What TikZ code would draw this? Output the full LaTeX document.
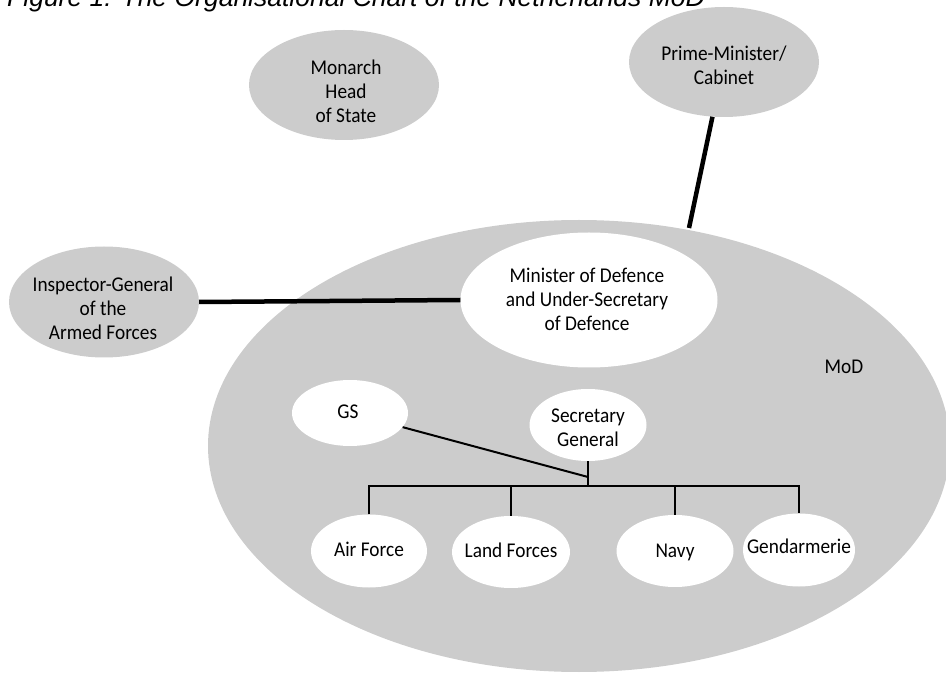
\documentclass[tikz,border=0pt]{standalone}
\usepackage{fontspec}
\setmainfont{Carlito}[FakeStretch=0.92]
\newfontfamily\titlefont{Liberation Sans}
\usetikzlibrary{shapes.geometric}
\definecolor{unitgray}{RGB}{204,204,204}

\begin{document}
\begin{tikzpicture}[x=1pt,y=-1pt,
  unit/.style={ellipse, inner sep=0pt, draw=none},
  grayunit/.style={unit, fill=unitgray},
  whiteunit/.style={unit, fill=white},
  txt/.style={inner sep=0pt, align=center, font=\fontsize{21}{24}\selectfont},
  heavy/.style={line width=4.5pt},
  light/.style={line width=2pt},
]
\useasboundingbox (0,0) rectangle (946,676);

% heading, cut by the top edge of the page
\node[anchor=base west, inner sep=0pt,
      font=\titlefont\itshape\fontsize{26.5}{30}\selectfont] (title) at (7,7)
  {Figure 1: The Organisational Chart of the Netherlands MoD};

% the ministry as a whole
\node[grayunit, minimum width=742pt, minimum height=452pt] (mod) at (579,446) {};
\node[txt, anchor=base] (modlabel) at (844,374) {MoD};

% bodies outside the ministry
\node[grayunit, minimum width=190pt, minimum height=110pt] (monarch) at (344,85) {};
\node[txt] (monarchlabel) at (346,91) {Monarch\\Head\\of State};

\node[grayunit, minimum width=190pt, minimum height=110pt] (pm) at (724,62) {};
\node[txt] (pmlabel) at (724,65) {Prime-Minister/\\Cabinet};

\node[grayunit, minimum width=190pt, minimum height=111pt] (insp) at (104,302) {};
\node[txt] (insplabel) at (103,308) {Inspector-General\\of the\\Armed Forces};

% minister and top staff
\node[whiteunit, minimum width=257pt, minimum height=135pt] (minister) at (589,300) {};
\node[txt] (ministerlabel) at (587,299) {Minister of Defence\\and Under-Secretary\\of Defence};

\node[whiteunit, minimum width=116pt, minimum height=66pt] (gs) at (350,413) {};
\node[txt, anchor=base] (gslabel) at (348,419) {GS};

\node[whiteunit, minimum width=117pt, minimum height=72pt] (sg) at (588,425) {};
\node[txt] (sglabel) at (588,428) {Secretary\\General};

% services
\node[whiteunit, minimum width=116pt, minimum height=73pt] (air) at (369,551) {};
\node[txt, anchor=base] (airlabel) at (369,556) {Air Force};

\node[whiteunit, minimum width=118pt, minimum height=72pt] (land) at (511,552) {};
\node[txt, anchor=base] (landlabel) at (511,557) {Land Forces};

\node[whiteunit, minimum width=117pt, minimum height=72pt] (navy) at (675,551) {};
\node[txt, anchor=base] (navylabel) at (675,557) {Navy};

\node[whiteunit, minimum width=112pt, minimum height=73pt] (gend) at (799,550) {};
\node[txt, anchor=base] (gendlabel) at (799,553) {Gendarmerie};

% connector end points
\coordinate (pmfoot) at (689,228);
\coordinate (busmid) at (588,486);
\coordinate (gsjoin) at (588,477);

% heavy links
\draw[heavy] (pm) -- (pmfoot);
\draw[heavy] (insp.east) -- (minister.west);

% organisational tree
\draw[light] (gs) -- (gsjoin);
\draw[light] (sg.south) -- (busmid);
\draw[light] (air.north) |- (busmid) -| (gend.north);
\draw[light] (land.north) -- (land.north |- busmid);
\draw[light] (navy.north) -- (navy.north |- busmid);
\end{tikzpicture}
\end{document}
